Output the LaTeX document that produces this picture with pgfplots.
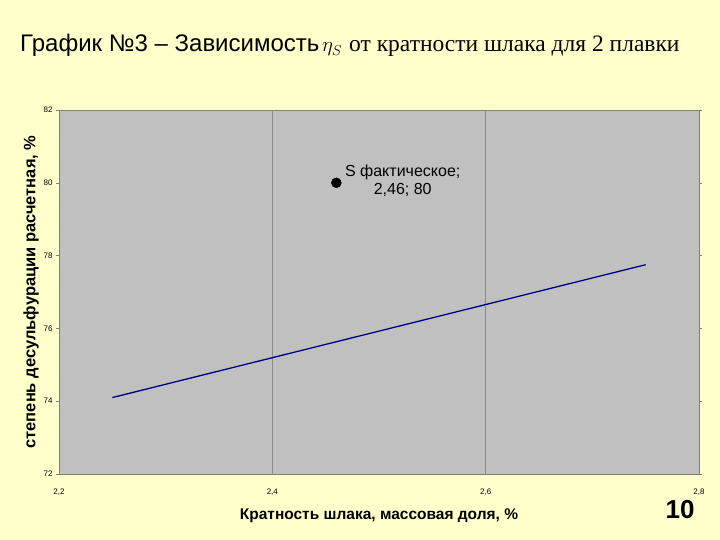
\documentclass[border=0pt]{standalone}
\usepackage{fontspec}
\setmainfont{Liberation Sans}
\newfontfamily\serif{Liberation Serif}
\usepackage{pgfplots}
\pgfplotsset{compat=1.18}

\definecolor{slidebg}{RGB}{255,255,204}
\definecolor{plotbg}{RGB}{192,192,192}
\definecolor{frameclr}{RGB}{128,128,112}
\definecolor{gridclr}{RGB}{140,140,140}
\definecolor{navy}{RGB}{0,0,128}

\begin{document}
\begin{tikzpicture}
\fill[slidebg] (0pt,0pt) rectangle (720pt,540pt);

% title, half Arial half Times as on the slide
\node[anchor=base west, inner sep=0pt, font=\fontsize{24}{24}\selectfont] at (20pt,488pt) {График №3 – Зависимость};
\node[anchor=base west, inner sep=0pt, font=\serif\fontsize{22}{22}\selectfont] at (322pt,488pt) {$\eta_S$};
\node[anchor=base west, inner sep=0pt, font=\serif\fontsize{23.5}{24}\selectfont] at (349pt,488pt) {от кратности шлака для 2 плавки};

\begin{axis}[
	at={(59pt,66pt)}, anchor=origin,
	scale only axis,
	width=640pt, height=364pt,
	xmin=2.2, xmax=2.8,
	ymin=72, ymax=82,
	xtick={2.2,2.4,2.6,2.8},
	ytick={72,74,76,78,80,82},
	axis background/.style={fill=plotbg},
	axis line style={frameclr, line width=0.8pt},
	xmajorgrids, grid style={gridclr, line width=0.6pt},
	tick style={frameclr},
	xtick style={draw=none},
	ytick align=outside, major tick length=3pt,
	tick label style={font=\fontsize{8}{8}\selectfont},
	/pgf/number format/assume math mode=true,
	/pgf/number format/use comma,
	/pgf/number format/fixed,
	/pgf/number format/fixed zerofill,
	/pgf/number format/precision=1,
	yticklabel style={/pgf/number format/precision=0, /pgf/number format/fixed zerofill=false},
	xticklabel style={yshift=-11pt},
	xlabel={Кратность шлака, массовая доля, \%},
	ylabel={степень десульфурации расчетная, \%},
	xlabel style={font=\bfseries\fontsize{15.5}{16}\selectfont, yshift=-7pt},
	ylabel style={font=\bfseries\fontsize{16.5}{17}\selectfont, yshift=-2pt},
	clip=false,
	]

	% calculated desulfurisation degree
	\addplot[navy, line width=1.3pt] coordinates {
	(2.25, 74.1)
	(2.75, 77.75)
	};

	% actual value
	\addplot[only marks, mark=*, mark size=5pt, black] coordinates {
	(2.46, 80)
	};
	\node[anchor=west, align=center, font=\fontsize{16}{18}\selectfont, inner sep=0pt] at (axis cs:2.468,80.05) {S фактическое;\\2,46; 80};
\end{axis}

\node[font=\bfseries\fontsize{26}{26}\selectfont, inner sep=0pt] at (680pt,30pt) {10};

\pgfresetboundingbox
\useasboundingbox (0pt,0pt) rectangle (720pt,540pt);
\end{tikzpicture}
\end{document}
